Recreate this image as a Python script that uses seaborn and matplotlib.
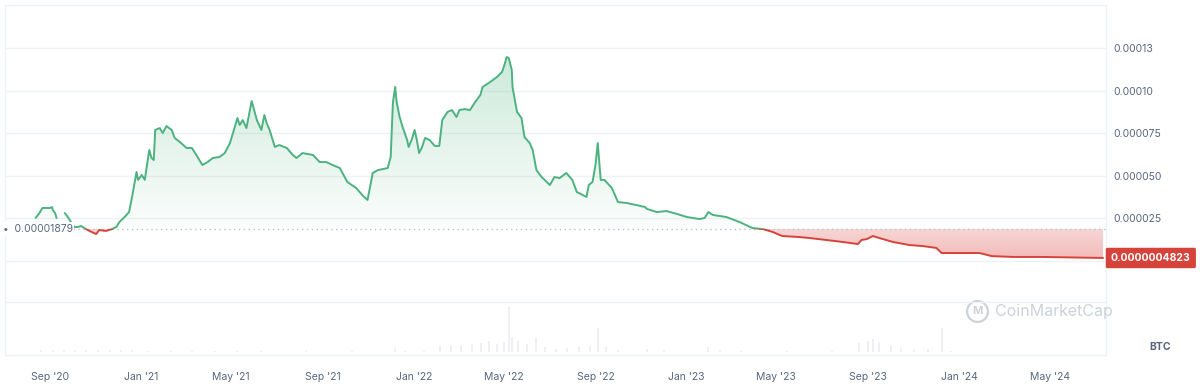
import numpy as np
import pandas as pd
import matplotlib
matplotlib.use('Agg')
import matplotlib.pyplot as plt
import matplotlib.dates as mdates
import seaborn as sns
from matplotlib.patches import Rectangle
from matplotlib.path import Path
from matplotlib.colors import LinearSegmentedColormap

# Price in BTC (x 1e-6)
dates = [
    '2020-08-13', '2020-08-18', '2020-08-22', '2020-09-01', '2020-09-04', '2020-09-05', '2020-09-08', '2020-09-10',
    '2020-09-21', '2020-09-25', '2020-09-30', '2020-10-04', '2020-10-08', '2020-10-13', '2020-10-17', '2020-10-24',
    '2020-11-02', '2020-11-06', '2020-11-15', '2020-11-23', '2020-11-29', '2020-12-03', '2020-12-10', '2020-12-16',
    '2020-12-20', '2020-12-26', '2020-12-28', '2021-01-02', '2021-01-06', '2021-01-10', '2021-01-12', '2021-01-15',
    '2021-01-18', '2021-01-20', '2021-01-26', '2021-01-30', '2021-02-04', '2021-02-11', '2021-02-15', '2021-02-22',
    '2021-03-03', '2021-03-10', '2021-03-16', '2021-03-24', '2021-03-31', '2021-04-07', '2021-04-16', '2021-04-23',
    '2021-04-30', '2021-05-06', '2021-05-10', '2021-05-13', '2021-05-17', '2021-05-22', '2021-05-26', '2021-05-29',
    '2021-06-02', '2021-06-05', '2021-06-11', '2021-06-15', '2021-06-18', '2021-06-22', '2021-06-29', '2021-07-05',
    '2021-07-15', '2021-07-23', '2021-07-28', '2021-08-05', '2021-08-19', '2021-08-28', '2021-09-06', '2021-09-14',
    '2021-09-24', '2021-10-04', '2021-10-16', '2021-10-24', '2021-10-31', '2021-11-07', '2021-11-14', '2021-11-27',
    '2021-12-01', '2021-12-04', '2021-12-07', '2021-12-09', '2021-12-13', '2021-12-17', '2021-12-23', '2021-12-25',
    '2021-12-29', '2022-01-02', '2022-01-05', '2022-01-08', '2022-01-12', '2022-01-16', '2022-01-22', '2022-01-29',
    '2022-02-04', '2022-02-08', '2022-02-15', '2022-02-21', '2022-02-27', '2022-03-03', '2022-03-10', '2022-03-17',
    '2022-03-24', '2022-03-31', '2022-04-03', '2022-04-13', '2022-04-22', '2022-04-29', '2022-05-03', '2022-05-05',
    '2022-05-08', '2022-05-12', '2022-05-13', '2022-05-19', '2022-05-25', '2022-05-29', '2022-06-05', '2022-06-09',
    '2022-06-14', '2022-06-21', '2022-07-02', '2022-07-08', '2022-07-15', '2022-07-24', '2022-08-01', '2022-08-07',
    '2022-08-20', '2022-08-23', '2022-08-28', '2022-09-01', '2022-09-04', '2022-09-08', '2022-09-13', '2022-09-23',
    '2022-10-01', '2022-10-13', '2022-10-26', '2022-11-06', '2022-11-09', '2022-11-22', '2022-12-05', '2022-12-19',
    '2023-01-01', '2023-01-18', '2023-01-25', '2023-01-30', '2023-02-05', '2023-02-23', '2023-03-13', '2023-03-30',
    '2023-04-13', '2023-04-26', '2023-05-09', '2023-06-01', '2023-06-15', '2023-07-29', '2023-08-18', '2023-08-23',
    '2023-08-30', '2023-09-07', '2023-09-16', '2023-10-04', '2023-10-26', '2023-11-13', '2023-12-01', '2023-12-08',
    '2024-01-01', '2024-01-28', '2024-02-13', '2024-03-12', '2024-04-21', '2024-07-11',
]
price_e6 = [
    25.0, 27.9, 30.9, 30.9, 31.4, 29.7, 27.9, 25.0,
    27.9, 25.6, 22.1, 19.7, 19.7, 20.3, 19.1, 17.4,
    15.6, 17.9, 17.4, 18.5, 19.7, 22.6, 25.6, 28.5,
    37.4, 52.1, 47.4, 50.3, 47.4, 59.1, 65.0, 60.3,
    59.1, 76.8, 77.9, 75.0, 79.1, 76.8, 72.1, 69.7,
    66.2, 66.2, 62.1, 56.2, 57.9, 60.3, 60.9, 63.2,
    69.1, 77.9, 83.8, 79.7, 82.6, 77.9, 86.8, 93.8,
    87.4, 82.6, 76.8, 85.6, 80.9, 76.8, 66.8, 67.9,
    66.2, 62.1, 60.3, 63.2, 62.1, 57.9, 57.9, 56.2,
    54.4, 46.2, 42.6, 38.5, 35.6, 51.5, 53.2, 54.4,
    60.9, 93.2, 102.1, 93.2, 84.4, 78.5, 70.9, 66.8,
    70.9, 76.8, 70.9, 63.2, 66.8, 72.1, 70.9, 67.4,
    67.4, 82.6, 87.4, 88.5, 84.4, 88.5, 89.1, 88.5,
    93.2, 97.4, 102.1, 105.0, 107.9, 110.9, 116.2, 119.7,
    119.1, 112.1, 102.1, 87.4, 83.8, 72.6, 69.1, 65.0,
    53.2, 49.1, 44.4, 49.1, 48.5, 51.5, 47.4, 40.3,
    37.4, 44.4, 46.2, 56.2, 69.1, 47.4, 47.4, 42.6,
    34.4, 33.8, 32.6, 31.5, 30.3, 28.5, 29.1, 27.4,
    25.6, 24.4, 25.0, 28.5, 26.8, 25.6, 22.6, 19.1,
    18.5, 16.8, 14.4, 13.8, 13.2, 10.9, 9.7, 12.1,
    12.6, 14.4, 13.2, 10.9, 9.1, 8.5, 7.4, 4.4,
    4.4, 4.4, 2.6, 2.1, 2.1, 1.5,
]
gap_start = '2020-09-10'   # no data between this and the next point

# Volume (relative), faint bars in the lower panel
vol_dates = [
    '2020-08-20', '2020-09-05', '2020-09-20', '2020-10-05', '2020-10-20', '2020-11-05', '2020-11-20',
    '2020-12-05', '2020-12-20', '2021-01-10', '2021-02-10', '2021-03-10', '2021-04-10', '2021-05-10',
    '2021-06-10', '2021-08-10', '2021-10-10', '2021-12-07', '2021-12-20', '2022-01-15', '2022-02-05',
    '2022-02-20', '2022-03-05', '2022-03-20', '2022-04-01', '2022-04-12', '2022-04-22', '2022-05-01',
    '2022-05-08', '2022-05-12', '2022-05-20', '2022-06-01', '2022-06-14', '2022-06-25', '2022-07-10',
    '2022-07-25', '2022-08-10', '2022-08-25', '2022-09-04', '2022-09-15', '2022-10-01', '2022-11-09',
    '2022-12-01', '2023-01-30', '2023-02-15', '2023-03-15', '2023-05-15', '2023-07-15', '2023-08-20',
    '2023-09-01', '2023-09-07', '2023-09-15', '2023-10-01', '2023-10-15', '2023-11-01', '2023-11-20',
    '2023-12-08', '2023-12-20',
]
vol = [
    0.04, 0.05, 0.04, 0.05, 0.04, 0.05, 0.04,
    0.05, 0.04, 0.03, 0.02, 0.02, 0.02, 0.03,
    0.02, 0.02, 0.02, 0.08, 0.03, 0.03, 0.12,
    0.15, 0.14, 0.16, 0.18, 0.22, 0.17, 0.20,
    0.90, 0.30, 0.22, 0.16, 0.28, 0.10, 0.06,
    0.08, 0.10, 0.12, 0.48, 0.10, 0.05, 0.06,
    0.04, 0.10, 0.05, 0.03, 0.03, 0.03, 0.18,
    0.22, 0.26, 0.20, 0.15, 0.08, 0.06, 0.07,
    0.48, 0.03,
]

tick_dates = ['2020-09-01', '2021-01-01', '2021-05-01', '2021-09-01', '2022-01-01', '2022-05-01',
              '2022-09-01', '2023-01-01', '2023-05-01', '2023-09-01', '2024-01-01', '2024-05-01']
y_ticks = [0, 25e-6, 50e-6, 75e-6, 100e-6, 125e-6]
y_labels = ['', '0.000025', '0.000050', '0.000075', '0.00010', '0.00013']

base = 0.00001879
last_label = '0.0000004823'

green = '#4cb27f'
red = '#d6433b'
txt = '#58667e'
gridc = '#eff2f5'
fs = 7.5

sns.set_theme(style='white')
plt.rcParams['font.family'] = ['Inter', 'DejaVu Sans']

df = pd.DataFrame({'date': pd.to_datetime(dates), 'price': np.array(price_e6) * 1e-6})
df['seg'] = (df['date'] > pd.Timestamp(gap_start)).astype(int)

fig = plt.figure(figsize=(12, 3.9), dpi=100)
ax = fig.add_axes([5 / 1200, 1 - 302 / 390, 1101 / 1200, 297 / 390])
axv = fig.add_axes([5 / 1200, 1 - 355 / 390, 1101 / 1200, 53 / 390], sharex=ax)

x0 = mdates.date2num(pd.Timestamp('2020-07-03'))
x1 = mdates.date2num(pd.Timestamp('2024-07-15'))
ylo, yhi = -24.4e-6, 150.3e-6

# line, green above the baseline and red below
above = Rectangle((x0, base), x1 - x0, yhi - base, transform=ax.transData)
below = Rectangle((x0, ylo), x1 - x0, base - ylo, transform=ax.transData)

n = len(ax.lines)
sns.lineplot(data=df, x='date', y='price', units='seg', estimator=None,
             color=green, lw=1.4, ax=ax, zorder=4)
for ln in ax.lines[n:]:
    ln.set_clip_path(above)
n = len(ax.lines)
sns.lineplot(data=df, x='date', y='price', units='seg', estimator=None,
             color=red, lw=1.4, ax=ax, zorder=4)
for ln in ax.lines[n:]:
    ln.set_clip_path(below)

# gradient fills between line and baseline
paths = []
for s, g in df.groupby('seg'):
    coll = ax.fill_between(mdates.date2num(g['date']), g['price'], base, color='none', lw=0)
    paths += coll.get_paths()
clip = Path.make_compound_path(*paths)

grad = np.linspace(0, 1, 256).reshape(-1, 1)
cm_g = LinearSegmentedColormap.from_list('g', [(0.30, 0.70, 0.50, 0.02), (0.30, 0.70, 0.50, 0.28)])
im = ax.imshow(grad, extent=[x0, x1, base, 120e-6], origin='lower', cmap=cm_g,
               aspect='auto', zorder=2, interpolation='bilinear')
im.set_clip_path(clip, ax.transData)
cm_r = LinearSegmentedColormap.from_list('r', [(0.86, 0.27, 0.25, 0.38), (0.86, 0.27, 0.25, 0.22)])
im2 = ax.imshow(grad, extent=[x0, x1, 0, base], origin='lower', cmap=cm_r,
                aspect='auto', zorder=2, interpolation='bilinear')
im2.set_clip_path(clip, ax.transData)

# baseline
ax.axhline(base, color='#b8c0cc', ls=(0, (1, 2.5)), lw=1, zorder=3)
ax.text(-0.002, base, '•  0.00001879', transform=ax.get_yaxis_transform(), ha='left', va='center',
        fontsize=fs, color=txt, zorder=5, clip_on=False,
        bbox=dict(boxstyle='square,pad=0.15', fc='white', ec='none'))

ax.set_xlim(x0, x1)
ax.set_ylim(ylo, yhi)
ax.set_yticks(y_ticks)
ax.set_yticklabels(y_labels)
ax.yaxis.tick_right()
ax.tick_params(axis='y', length=0, pad=5, labelsize=fs, labelcolor=txt)
ax.tick_params(axis='x', length=0, labelbottom=False)
ax.grid(axis='y', color=gridc, lw=1)
ax.set_xlabel('')
ax.set_ylabel('')

# current price tag
ax.text(1.0045, df['price'].iloc[-1], last_label, transform=ax.get_yaxis_transform(),
        ha='left', va='center', fontsize=fs, fontweight='bold', color='white', clip_on=False, zorder=6,
        bbox=dict(boxstyle='round,pad=0.5,rounding_size=0.15', fc=red, ec='none'))

# volume panel
axv.vlines(mdates.date2num(pd.to_datetime(vol_dates)), 0, vol, color='#eceef2', lw=1.2)
axv.set_ylim(-0.05, 1.0)
axv.set_yticks([])
axv.set_xticks(mdates.date2num(pd.to_datetime(tick_dates)))
axv.xaxis.set_major_formatter(mdates.DateFormatter("%b '%y"))
axv.tick_params(axis='x', length=0, pad=12, labelsize=fs, labelcolor=txt)
axv.set_xlim(x0, x1)

for a in (ax, axv):
    for sp in a.spines.values():
        sp.set_color(gridc)
        sp.set_linewidth(1)

# watermark
axv.plot([0.883], [0.83], transform=axv.transAxes, marker='o', ms=15, mfc='none',
         mec='#cdd2da', mew=1.6, clip_on=False)
axv.text(0.883, 0.83, 'M', transform=axv.transAxes, ha='center', va='center',
         fontsize=8, color='#cdd2da', fontweight='bold')
axv.text(0.899, 0.83, 'CoinMarketCap', transform=axv.transAxes, ha='left', va='center',
         fontsize=11.5, color='#cdd2da')

fig.text(1160 / 1200, 1 - 347 / 390, 'BTC', ha='center', va='center', fontsize=fs,
         fontweight='bold', color=txt)

fig.savefig('out.png', dpi=100, facecolor='white')
